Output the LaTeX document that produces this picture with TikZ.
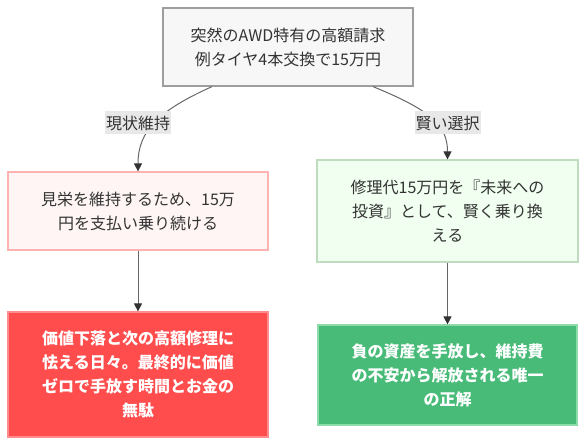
\documentclass[tikz,border=0pt]{standalone}
\usepackage{fontspec}
\setmainfont{Noto Sans CJK JP}
\usetikzlibrary{positioning,arrows.meta,calc}
\definecolor{txtdark}{HTML}{333333}
\definecolor{linegray}{HTML}{666666}
\definecolor{tipdark}{HTML}{333333}
\definecolor{lblbg}{HTML}{E8E8E8}

\begin{document}
\begin{tikzpicture}[
  x=1pt, y=-1pt,
  every node/.style={font=\fontsize{16}{24}\selectfont, align=center, text=txtdark},
  box/.style={draw, line width=1.2pt, inner sep=0pt},
  neutral/.style={box, fill=black!3, draw=black!38},
  keepbox/.style={box, fill=red!4, draw=red!30},
  buybox/.style={box, fill=green!6, draw=green!45!black!25},
  bad/.style={box, fill={rgb,255:red,255;green,77;blue,77}, draw={rgb,255:red,255;green,140;blue,140}, text=white, font=\fontsize{16}{24}\selectfont\bfseries},
  good/.style={box, fill={rgb,255:red,72;green,187;blue,120}, draw={rgb,255:red,140;green,220;blue,170}, text=white, font=\fontsize{16}{24}\selectfont\bfseries},
  lbl/.style={fill=lblbg, inner sep=1pt, minimum height=23pt},
  edge/.style={draw=linegray, line width=1pt, -{Triangle[width=8pt,length=8pt,color=tipdark]}}
]
\useasboundingbox (0,0) rectangle (586,446);

\node[neutral, minimum width=250pt, minimum height=78pt] (shock) at (288,47) {突然のAWD特有の高額請求\\例タイヤ4本交換で15万円};
\node[keepbox, minimum width=260pt, minimum height=78pt] (keep) at (138,211) {見栄を維持するため、15万\\円を支払い乗り続ける};
\node[buybox, minimum width=261pt, minimum height=102pt] (buy) at (447.5,211) {修理代15万円を『未来への\\投資』として、賢く乗り換\\える};
\node[bad, minimum width=260pt, minimum height=125pt] (waste) at (138,374.5) {価値下落と次の高額修理に\\怯える日々。最終的に価値\\ゼロで手放す時間とお金の\\無駄};
\node[good, minimum width=259pt, minimum height=100pt] (gain) at (447.5,375) {負の資産を手放し、維持費\\の不安から解放される唯一\\の正解};

\draw[edge] ([xshift=-76pt]shock.south) .. controls (160,110) and (138,130) .. (keep.north);
\draw[edge] ([xshift=85pt]shock.south) .. controls (430,110) and (447.5,125) .. (buy.north);
\node[lbl] (lblkeep) at (138,123) {現状維持};
\node[lbl] (lblbuy) at (447.5,123) {賢い選択};

\draw[edge] (keep) -- (waste);
\draw[edge] (buy) -- (gain);
\end{tikzpicture}
\end{document}
